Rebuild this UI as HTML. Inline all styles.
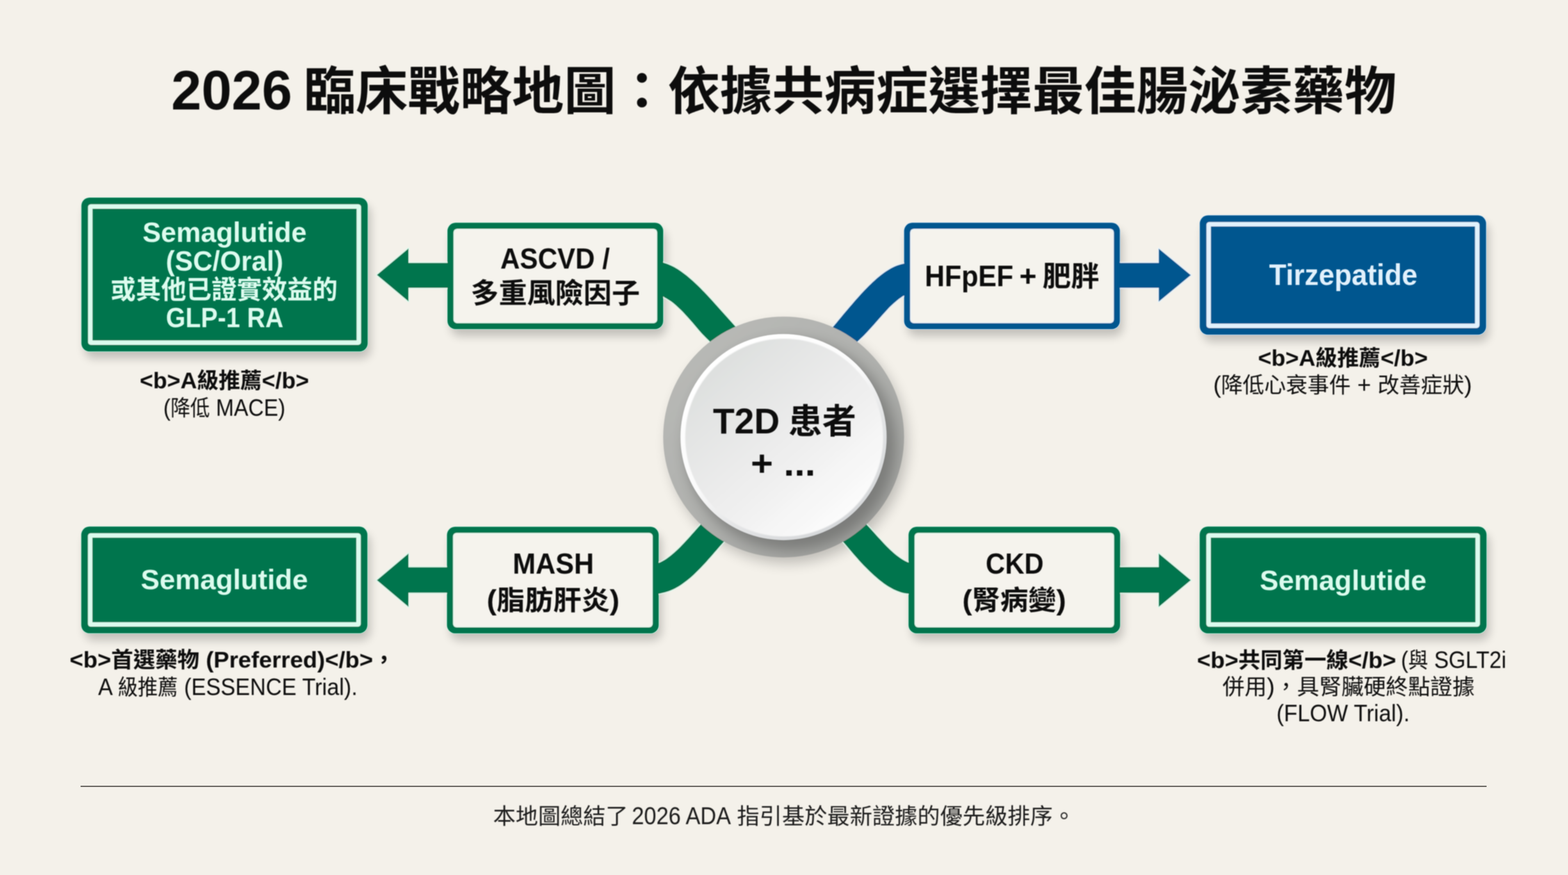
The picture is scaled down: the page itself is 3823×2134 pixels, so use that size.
<!DOCTYPE html>
<html lang="zh-Hant">
<head>
<meta charset="utf-8">
<title>2026 臨床戰略地圖：依據共病症選擇最佳腸泌素藥物</title>
<style>
html,body{margin:0;padding:0;background:#f4f1ea;}
body{width:3823px;height:2134px;overflow:hidden;position:relative;}
svg{position:absolute;left:0;top:0;display:block;}
text{font-family:"Liberation Sans", "Noto Sans CJK TC", sans-serif;}
.b{font-weight:700;}
.m{font-weight:500;}
.r{font-weight:400;}
</style>
</head>
<body>
<svg width="3823" height="2134" viewBox="0 0 3823 2134">
<defs>
<filter id="blur9" x="-20%" y="-30%" width="140%" height="160%"><feGaussianBlur stdDeviation="11"/></filter>
<filter id="blur16" x="-30%" y="-30%" width="160%" height="160%"><feGaussianBlur stdDeviation="16"/></filter>
<filter id="blur10" x="-30%" y="-30%" width="160%" height="160%"><feGaussianBlur stdDeviation="10"/></filter>
<filter id="soft" x="-5%" y="-5%" width="110%" height="110%"><feGaussianBlur stdDeviation="0.9"/></filter>
<filter id="softt" x="-2%" y="-5%" width="104%" height="110%"><feGaussianBlur stdDeviation="0.8"/></filter>
<linearGradient id="ring" x1="0.15" y1="0.1" x2="0.85" y2="0.9">
  <stop offset="0" stop-color="#b8b9b6"/>
  <stop offset="0.5" stop-color="#b0b1ae"/>
  <stop offset="1" stop-color="#a2a3a0"/>
</linearGradient>
<linearGradient id="disc" x1="0.15" y1="0.1" x2="0.85" y2="0.9">
  <stop offset="0" stop-color="#dddfde"/>
  <stop offset="0.5" stop-color="#ececec"/>
  <stop offset="1" stop-color="#fcfcfc"/>
</linearGradient>
<linearGradient id="rim" x1="0.2" y1="0.1" x2="0.8" y2="0.9">
  <stop offset="0" stop-color="#ffffff"/>
  <stop offset="0.45" stop-color="#fbfbfb"/>
  <stop offset="0.7" stop-color="#e4e5e6"/>
  <stop offset="1" stop-color="#d6d8da"/>
</linearGradient>
<clipPath id="ringclip"><circle cx="1910.7" cy="1065.8" r="293.6"/></clipPath>
</defs>
<rect x="0" y="0" width="3823" height="2134" fill="#f4f1ea"/>

<g filter="url(#blur9)" opacity="0.20">
<rect x="206.5" y="499" width="697.0" height="375.29999999999995" rx="22" fill="#000"/>
<rect x="2933.3" y="542.3" width="697.0" height="291.0" rx="22" fill="#000"/>
<rect x="206.2" y="1301.3" width="696.5999999999999" height="260.20000000000005" rx="22" fill="#000"/>
<rect x="2933" y="1301.2" width="698.4000000000001" height="260.5999999999999" rx="22" fill="#000"/>
<rect x="1099" y="560.3" width="525" height="259.5" rx="22" fill="#000"/>
<rect x="2212.4" y="560.3" width="525.0" height="259.5" rx="22" fill="#000"/>
<rect x="1097.8" y="1301.8" width="515.2" height="259.9000000000001" rx="22" fill="#000"/>
<rect x="2223.2" y="1301.8" width="514.8000000000002" height="259.9000000000001" rx="22" fill="#000"/>
</g>
<circle cx="1920.6" cy="1081.8" r="291.6" fill="#000" opacity="0.22" filter="url(#blur16)"/>
<rect x="197.0" y="480.5" width="701.0" height="378.29999999999995" rx="21.5" fill="#dcfbee" opacity="0.8"/>
<rect x="2923.8" y="523.8" width="701.0" height="294.0" rx="21.5" fill="#e2f1fc" opacity="0.8"/>
<rect x="196.7" y="1282.8" width="700.5999999999999" height="263.20000000000005" rx="21.5" fill="#dcfbee" opacity="0.8"/>
<rect x="2923.5" y="1282.7" width="702.4000000000001" height="263.5999999999999" rx="21.5" fill="#dcfbee" opacity="0.8"/>
<rect x="1089.5" y="541.8" width="529" height="262.5" rx="21.5" fill="#dcfbee" opacity="0.8"/>
<rect x="2202.9" y="541.8" width="529.0" height="262.5" rx="21.5" fill="#e2f1fc" opacity="0.8"/>
<rect x="1088.3" y="1283.3" width="519.2" height="262.9000000000001" rx="21.5" fill="#dcfbee" opacity="0.8"/>
<rect x="2213.7" y="1283.3" width="518.8000000000002" height="262.9000000000001" rx="21.5" fill="#dcfbee" opacity="0.8"/>
<g filter="url(#soft)">
<path d="M1604.2 640.3 L1616.2 640.3 L1620.2 641.4 L1624.2 642.7 L1628.3 644.2 L1632.3 645.9 L1636.3 647.7 L1640.4 649.7 L1644.4 651.8 L1648.5 654.2 L1652.5 656.6 L1656.5 659.2 L1660.6 662.0 L1664.6 664.9 L1668.6 667.9 L1672.7 671.0 L1676.7 674.3 L1680.7 677.7 L1684.8 681.2 L1688.8 684.8 L1692.9 688.4 L1696.9 692.2 L1700.9 696.1 L1705.0 700.0 L1709.0 704.1 L1713.0 708.2 L1717.1 712.3 L1721.1 716.5 L1725.1 720.8 L1729.2 725.2 L1733.2 729.5 L1737.3 733.9 L1741.3 738.4 L1745.3 742.9 L1749.4 747.4 L1753.4 751.9 L1757.4 756.4 L1761.5 761.0 L1765.5 765.5 L1769.6 770.0 L1773.6 774.6 L1777.6 779.1 L1781.7 783.6 L1785.7 788.1 L1789.7 792.5 L1836.6 844.5 L1777.8 880.1 L1728.3 830.6 L1724.3 826.7 L1720.3 822.7 L1716.2 818.6 L1712.2 814.4 L1708.2 810.1 L1704.2 805.5 L1700.2 800.8 L1696.2 796.0 L1692.2 791.3 L1688.2 786.5 L1684.2 781.9 L1680.2 777.4 L1676.2 773.0 L1672.2 768.7 L1668.2 764.3 L1664.2 760.1 L1660.2 756.1 L1656.2 752.2 L1652.2 748.4 L1648.2 744.7 L1644.2 741.2 L1640.2 737.9 L1636.2 735.1 L1632.2 732.4 L1628.2 729.9 L1624.2 727.5 L1620.2 725.4 L1616.2 722.3 L1604.2 722.3 Z" fill="#06744e" stroke="#dcfbee" stroke-width="4.6" stroke-linejoin="round" paint-order="stroke"/>
<path d="M2216.2 643.1 L2204.2 643.1 L2200.2 643.8 L2196.2 644.8 L2192.2 645.9 L2188.1 647.3 L2184.1 648.8 L2180.1 650.6 L2176.1 652.5 L2172.1 654.6 L2168.1 656.9 L2164.0 659.4 L2160.0 662.0 L2156.0 664.8 L2152.0 667.7 L2148.0 670.8 L2144.0 674.0 L2139.9 677.3 L2135.9 680.8 L2131.9 684.4 L2127.9 688.1 L2123.9 691.9 L2119.9 695.8 L2115.9 699.8 L2111.8 703.9 L2107.8 708.0 L2103.8 712.3 L2099.8 716.6 L2095.8 721.0 L2091.8 725.5 L2087.7 730.0 L2083.7 734.6 L2079.7 739.2 L2075.7 743.9 L2071.7 748.6 L2067.7 753.3 L2063.7 758.1 L2059.6 762.8 L2055.6 767.6 L2051.6 772.4 L2047.6 777.3 L2043.6 782.1 L2039.6 786.9 L2035.5 791.7 L2031.5 796.4 L1986.6 850.1 L2043.3 878.2 L2093.9 829.9 L2098.0 826.1 L2102.1 822.2 L2106.2 818.2 L2110.2 814.0 L2114.3 809.7 L2118.4 805.3 L2122.5 800.8 L2126.6 796.3 L2130.7 791.7 L2134.8 787.1 L2138.8 782.4 L2142.9 777.8 L2147.0 773.2 L2151.1 768.5 L2155.2 764.0 L2159.3 759.4 L2163.4 755.0 L2167.4 750.6 L2171.5 746.6 L2175.6 742.8 L2179.7 739.1 L2183.8 735.5 L2187.9 732.0 L2191.9 728.8 L2196.0 725.9 L2200.1 723.1 L2204.2 720.6 L2216.2 720.6 Z" fill="#03568f" stroke="#e2f1fc" stroke-width="4.6" stroke-linejoin="round" paint-order="stroke"/>
<path d="M1593.3 1373.2 L1605.3 1373.2 L1609.4 1371.5 L1613.4 1369.6 L1617.5 1367.3 L1621.5 1364.9 L1625.6 1362.2 L1629.6 1359.3 L1633.7 1356.3 L1637.7 1353.0 L1641.8 1349.6 L1645.8 1346.0 L1649.9 1342.2 L1653.9 1338.4 L1658.0 1334.4 L1662.0 1330.2 L1666.1 1326.0 L1670.1 1321.7 L1674.2 1317.3 L1678.2 1312.9 L1682.3 1308.4 L1686.3 1303.8 L1690.4 1299.2 L1694.4 1294.7 L1698.5 1290.1 L1702.5 1285.5 L1706.6 1280.9 L1752.9 1228.4 L1809.9 1270.6 L1763.5 1323.0 L1759.5 1327.5 L1755.4 1332.1 L1751.3 1336.8 L1747.3 1341.4 L1743.2 1346.1 L1739.2 1350.7 L1735.1 1355.4 L1731.1 1360.0 L1727.0 1364.6 L1723.0 1369.3 L1718.9 1373.7 L1714.8 1378.0 L1710.8 1382.2 L1706.7 1386.4 L1702.7 1390.5 L1698.6 1394.6 L1694.6 1398.5 L1690.5 1402.4 L1686.4 1406.2 L1682.4 1409.7 L1678.3 1413.0 L1674.3 1416.2 L1670.2 1419.3 L1666.2 1422.3 L1662.1 1425.2 L1658.0 1427.9 L1654.0 1430.5 L1649.9 1432.8 L1645.9 1435.0 L1641.8 1437.0 L1637.8 1438.8 L1633.7 1440.5 L1629.7 1441.9 L1625.6 1443.3 L1621.5 1444.4 L1617.5 1445.5 L1613.4 1446.6 L1609.4 1447.4 L1605.3 1448.0 L1593.3 1448.0 Z" fill="#06744e" stroke="#dcfbee" stroke-width="4.6" stroke-linejoin="round" paint-order="stroke"/>
<path d="M2227.0 1372.1 L2215.0 1372.1 L2211.0 1370.3 L2206.9 1368.3 L2202.8 1365.9 L2198.7 1363.4 L2194.6 1360.7 L2190.5 1357.8 L2186.4 1354.7 L2182.4 1351.4 L2178.3 1347.9 L2174.2 1344.2 L2170.1 1340.4 L2166.0 1336.5 L2161.9 1332.4 L2157.8 1328.2 L2153.8 1323.9 L2149.7 1319.6 L2145.6 1315.1 L2141.5 1310.7 L2137.4 1306.2 L2133.3 1301.6 L2129.2 1297.1 L2125.2 1292.6 L2121.1 1288.1 L2117.0 1283.6 L2112.9 1279.2 L2065.5 1227.7 L2012.7 1270.3 L2057.7 1323.9 L2061.8 1328.7 L2065.8 1333.5 L2069.8 1338.2 L2073.9 1343.0 L2077.9 1347.7 L2081.9 1352.4 L2086.0 1357.0 L2090.0 1361.6 L2094.0 1366.2 L2098.1 1370.7 L2102.1 1375.0 L2106.1 1379.2 L2110.2 1383.3 L2114.2 1387.3 L2118.2 1391.3 L2122.3 1395.2 L2126.3 1399.0 L2130.3 1402.7 L2134.4 1406.3 L2138.4 1409.8 L2142.4 1413.2 L2146.5 1416.5 L2150.5 1419.6 L2154.5 1422.7 L2158.6 1425.6 L2162.6 1428.3 L2166.6 1430.8 L2170.7 1433.1 L2174.7 1435.3 L2178.7 1437.4 L2182.8 1439.3 L2186.8 1441.0 L2190.8 1442.6 L2194.9 1444.0 L2198.9 1445.3 L2202.9 1446.2 L2207.0 1446.9 L2211.0 1447.4 L2215.0 1447.7 L2227.0 1447.7 Z" fill="#06744e" stroke="#dcfbee" stroke-width="4.6" stroke-linejoin="round" paint-order="stroke"/>
<path d="M919 670.5 L996 606.0 L996 641.3 L1100 641.3 L1100 702 L996 702 L996 735.0 Z" fill="#06744e" stroke="#dcfbee" stroke-width="4.6" stroke-linejoin="round" paint-order="stroke"/>
<path d="M2903.3 671 L2825.3 606.5 L2825.3 641.3 L2722 641.3 L2722 702 L2825.3 702 L2825.3 735.5 Z" fill="#03568f" stroke="#e2f1fc" stroke-width="4.6" stroke-linejoin="round" paint-order="stroke"/>
<path d="M919 1415 L996 1350 L996 1383.5 L1100 1383.5 L1100 1445.5 L996 1445.5 L996 1480 Z" fill="#06744e" stroke="#dcfbee" stroke-width="4.6" stroke-linejoin="round" paint-order="stroke"/>
<path d="M2903.3 1415 L2825.3 1350 L2825.3 1383 L2722 1383 L2722 1445.7 L2825.3 1445.7 L2825.3 1480 Z" fill="#06744e" stroke="#dcfbee" stroke-width="4.6" stroke-linejoin="round" paint-order="stroke"/>
<rect x="198.5" y="482" width="698.0" height="375.29999999999995" rx="20" fill="#06744e"/>
<rect x="214.7" y="498.2" width="665.6" height="342.9" rx="7" fill="#dcfbee"/>
<rect x="225.5" y="509.0" width="644.0" height="321.29999999999995" rx="1" fill="#06744e"/>
<rect x="2925.3" y="525.3" width="698.0" height="291.0" rx="20" fill="#03568f"/>
<rect x="2941.5" y="541.5" width="665.6" height="258.6" rx="7" fill="#e2f1fc"/>
<rect x="2952.3" y="552.3" width="644.0" height="237.0" rx="1" fill="#03568f"/>
<rect x="198.2" y="1284.3" width="697.5999999999999" height="260.20000000000005" rx="20" fill="#06744e"/>
<rect x="214.39999999999998" y="1300.5" width="665.1999999999999" height="227.80000000000004" rx="7" fill="#dcfbee"/>
<rect x="225.2" y="1311.3" width="643.5999999999999" height="206.20000000000005" rx="1" fill="#06744e"/>
<rect x="2925" y="1284.2" width="699.4000000000001" height="260.5999999999999" rx="20" fill="#06744e"/>
<rect x="2941.2" y="1300.4" width="667.0000000000001" height="228.1999999999999" rx="7" fill="#dcfbee"/>
<rect x="2952.0" y="1311.2" width="645.4000000000001" height="206.5999999999999" rx="1" fill="#06744e"/>
<rect x="1091" y="543.3" width="526" height="259.5" rx="20" fill="#06744e"/>
<rect x="1105.6" y="557.9" width="496.8" height="230.3" rx="9" fill="#dcfbee"/>
<rect x="1107.6" y="559.9" width="492.8" height="226.3" rx="7.5" fill="#f5f3ed"/>
<rect x="2204.4" y="543.3" width="526.0" height="259.5" rx="20" fill="#03568f"/>
<rect x="2219.0" y="557.9" width="496.8" height="230.3" rx="9" fill="#e2f1fc"/>
<rect x="2221.0" y="559.9" width="492.8" height="226.3" rx="7.5" fill="#f5f3ed"/>
<rect x="1089.8" y="1284.8" width="516.2" height="259.9000000000001" rx="20" fill="#06744e"/>
<rect x="1104.3999999999999" y="1299.3999999999999" width="487.00000000000006" height="230.7000000000001" rx="9" fill="#dcfbee"/>
<rect x="1106.3999999999999" y="1301.3999999999999" width="483.00000000000006" height="226.7000000000001" rx="7.5" fill="#f5f3ed"/>
<rect x="2215.2" y="1284.8" width="515.8000000000002" height="259.9000000000001" rx="20" fill="#06744e"/>
<rect x="2229.7999999999997" y="1299.3999999999999" width="486.6000000000002" height="230.7000000000001" rx="9" fill="#dcfbee"/>
<rect x="2231.7999999999997" y="1301.3999999999999" width="482.6000000000002" height="226.7000000000001" rx="7.5" fill="#f5f3ed"/>
<circle cx="1910.6" cy="1065.8" r="293.6" fill="url(#ring)"/>
<g clip-path="url(#ringclip)"><circle cx="1927.6" cy="1084.8" r="257.2" fill="#000" opacity="0.25" filter="url(#blur16)"/></g>
<circle cx="1910.3999999999999" cy="1066.0" r="251.2" fill="url(#rim)"/>
<circle cx="1911.8999999999999" cy="1067.1" r="241.2" fill="url(#disc)" filter="url(#soft)"/>
</g>
<rect x="196.5" y="1916.4" width="3428" height="2.8" fill="#55534e"/>
<g filter="url(#softt)">
<text id="title1" x="564.8" y="267" font-size="127" class="b" fill="#0a0a0a" text-anchor="middle" xml:space="preserve" textLength="294.5" lengthAdjust="spacingAndGlyphs"><tspan font-size="136">2026</tspan></text>
<text id="title2" x="2072.7" y="267" font-size="126.7" class="b" fill="#0a0a0a" text-anchor="middle" xml:space="preserve" textLength="2664.3" lengthAdjust="spacingAndGlyphs"><tspan font-size="126.7">臨床戰略地圖：依據共病症選擇最佳腸泌素藥物</tspan></text>
<text id="b1l1" x="547.5" y="590" font-size="63" class="b" fill="#dcfbee" text-anchor="middle" xml:space="preserve" textLength="400.2" lengthAdjust="spacingAndGlyphs"><tspan font-size="69">Semaglutide</tspan></text>
<text id="b1l2" x="547.5" y="660" font-size="63" class="b" fill="#dcfbee" text-anchor="middle" xml:space="preserve" textLength="286.3" lengthAdjust="spacingAndGlyphs"><tspan font-size="69">(SC/Oral)</tspan></text>
<text id="b1l3" x="546.5" y="728" font-size="63" class="b" fill="#dcfbee" text-anchor="middle" xml:space="preserve" textLength="553.8" lengthAdjust="spacingAndGlyphs"><tspan font-size="63">或其他已證實效益的</tspan></text>
<text id="b1l4" x="547.8" y="798" font-size="63" class="b" fill="#dcfbee" text-anchor="middle" xml:space="preserve" textLength="286.4" lengthAdjust="spacingAndGlyphs"><tspan font-size="69">GLP-1 RA</tspan></text>
<text id="c1l1" x="547.0" y="947.4" font-size="53" class="b" fill="#0a0a0a" text-anchor="middle" xml:space="preserve" textLength="412.6" lengthAdjust="spacingAndGlyphs"><tspan font-size="56">&lt;b&gt;A</tspan><tspan font-size="53">級推薦</tspan><tspan font-size="56">&lt;/b&gt;</tspan></text>
<text id="c1l2" x="547.0" y="1014" font-size="53" class="r" fill="#0a0a0a" text-anchor="middle" xml:space="preserve" textLength="297.4" lengthAdjust="spacingAndGlyphs"><tspan font-size="58">(</tspan><tspan font-size="53">降低</tspan><tspan font-size="58"> MACE)</tspan></text>
<text id="ascvd1" x="1353.4" y="654.5" font-size="68.5" class="b" fill="#0a0a0a" text-anchor="middle" xml:space="preserve" textLength="266.7" lengthAdjust="spacingAndGlyphs"><tspan font-size="70">ASCVD /</tspan></text>
<text id="ascvd2" x="1353.8" y="739" font-size="68.5" class="b" fill="#0a0a0a" text-anchor="middle" xml:space="preserve" textLength="412.8" lengthAdjust="spacingAndGlyphs"><tspan font-size="68.5">多重風險因子</tspan></text>
<text id="hfpef1" x="2362.8" y="698" font-size="68" class="b" fill="#0a0a0a" text-anchor="middle" xml:space="preserve" textLength="216.0" lengthAdjust="spacingAndGlyphs"><tspan font-size="73">HFpEF</tspan></text>
<text id="hfpef2" x="2506.3" y="698" font-size="68" class="b" fill="#0a0a0a" text-anchor="middle" xml:space="preserve" textLength="42.2" lengthAdjust="spacingAndGlyphs"><tspan font-size="73">+</tspan></text>
<text id="hfpef3" x="2611.3" y="698" font-size="68" class="b" fill="#0a0a0a" text-anchor="middle" xml:space="preserve" textLength="139.1" lengthAdjust="spacingAndGlyphs"><tspan font-size="68">肥胖</tspan></text>
<text id="tirz" x="3275.1" y="695.2" font-size="70" class="b" fill="#e2f1fc" text-anchor="middle" xml:space="preserve" textLength="361.8" lengthAdjust="spacingAndGlyphs"><tspan font-size="73">Tirzepatide</tspan></text>
<text id="c2l1" x="3274.2" y="892" font-size="53" class="b" fill="#0a0a0a" text-anchor="middle" xml:space="preserve" textLength="414.0" lengthAdjust="spacingAndGlyphs"><tspan font-size="56">&lt;b&gt;A</tspan><tspan font-size="53">級推薦</tspan><tspan font-size="56">&lt;/b&gt;</tspan></text>
<text id="c2l2" x="3273.4" y="958.3" font-size="53" class="r" fill="#0a0a0a" text-anchor="middle" xml:space="preserve" textLength="631.0" lengthAdjust="spacingAndGlyphs"><tspan font-size="58">(</tspan><tspan font-size="53">降低心衰事件</tspan><tspan font-size="58"> + </tspan><tspan font-size="53">改善症狀</tspan><tspan font-size="58">)</tspan></text>
<text id="t2d1a" x="1819.6" y="1056.7" font-size="84" class="b" fill="#0a0a0a" text-anchor="middle" xml:space="preserve" textLength="162.7" lengthAdjust="spacingAndGlyphs"><tspan font-size="88">T2D</tspan></text>
<text id="t2d1b" x="2004.8" y="1056.7" font-size="84" class="b" fill="#0a0a0a" text-anchor="middle" xml:space="preserve" textLength="165.5" lengthAdjust="spacingAndGlyphs"><tspan font-size="84">患者</tspan></text>
<text id="t2d2" x="1909.5" y="1160" font-size="84" class="b" fill="#0a0a0a" text-anchor="middle" xml:space="preserve" textLength="157.8" lengthAdjust="spacingAndGlyphs"><tspan font-size="88">+ ...</tspan></text>
<text id="sema2" x="547.0" y="1437.1" font-size="66" class="b" fill="#dcfbee" text-anchor="middle" xml:space="preserve" textLength="407.5" lengthAdjust="spacingAndGlyphs"><tspan font-size="69">Semaglutide</tspan></text>
<text id="c3l1" x="566.5" y="1628" font-size="53" class="b" fill="#0a0a0a" text-anchor="middle" xml:space="preserve" textLength="793.3" lengthAdjust="spacingAndGlyphs"><tspan font-size="56">&lt;b&gt;</tspan><tspan font-size="53">首選藥物</tspan><tspan font-size="56"> (Preferred)&lt;/b&gt;</tspan><tspan font-size="53">，</tspan></text>
<text id="c3l2" x="555.4" y="1694.5" font-size="53" class="r" fill="#0a0a0a" text-anchor="middle" xml:space="preserve" textLength="632.4" lengthAdjust="spacingAndGlyphs"><tspan font-size="58">A </tspan><tspan font-size="53">級推薦</tspan><tspan font-size="58"> (ESSENCE Trial).</tspan></text>
<text id="mash1" x="1349.0" y="1399.2" font-size="68" class="b" fill="#0a0a0a" text-anchor="middle" xml:space="preserve" textLength="198.0" lengthAdjust="spacingAndGlyphs"><tspan font-size="70">MASH</tspan></text>
<text id="mash2" x="1348.7" y="1486.5" font-size="66" class="b" fill="#0a0a0a" text-anchor="middle" xml:space="preserve" textLength="323.9" lengthAdjust="spacingAndGlyphs"><tspan font-size="69">(</tspan><tspan font-size="66">脂肪肝炎</tspan><tspan font-size="69">)</tspan></text>
<text id="ckd1" x="2474.0" y="1399.2" font-size="68" class="b" fill="#0a0a0a" text-anchor="middle" xml:space="preserve" textLength="141.3" lengthAdjust="spacingAndGlyphs"><tspan font-size="70">CKD</tspan></text>
<text id="ckd2" x="2472.8" y="1486.5" font-size="66" class="b" fill="#0a0a0a" text-anchor="middle" xml:space="preserve" textLength="253.2" lengthAdjust="spacingAndGlyphs"><tspan font-size="69">(</tspan><tspan font-size="66">腎病變</tspan><tspan font-size="69">)</tspan></text>
<text id="sema3" x="3274.7" y="1438.6" font-size="66" class="b" fill="#dcfbee" text-anchor="middle" xml:space="preserve" textLength="406.5" lengthAdjust="spacingAndGlyphs"><tspan font-size="69">Semaglutide</tspan></text>
<text id="c4l1a" x="3161.2" y="1629.4" font-size="53" class="b" fill="#0a0a0a" text-anchor="middle" xml:space="preserve" textLength="485.4" lengthAdjust="spacingAndGlyphs"><tspan font-size="56">&lt;b&gt;</tspan><tspan font-size="53">共同第一線</tspan><tspan font-size="56">&lt;/b&gt;</tspan></text>
<text id="c4l1b" x="3544.2" y="1629.4" font-size="53" class="r" fill="#0a0a0a" text-anchor="middle" xml:space="preserve" textLength="256.9" lengthAdjust="spacingAndGlyphs"><tspan font-size="58">(</tspan><tspan font-size="53">與</tspan><tspan font-size="58"> SGLT2i</tspan></text>
<text id="c4l2" x="3287.8" y="1694" font-size="53" class="r" fill="#0a0a0a" text-anchor="middle" xml:space="preserve" textLength="615.0" lengthAdjust="spacingAndGlyphs"><tspan font-size="53">併用</tspan><tspan font-size="58">)</tspan><tspan font-size="53">，具腎臟硬終點證據</tspan></text>
<text id="c4l3" x="3274.7" y="1758.5" font-size="53" class="r" fill="#0a0a0a" text-anchor="middle" xml:space="preserve" textLength="324.8" lengthAdjust="spacingAndGlyphs"><tspan font-size="58">(FLOW Trial).</tspan></text>
<text id="foot1" x="1366.8" y="2010" font-size="54" class="r" fill="#1a1a1a" text-anchor="middle" xml:space="preserve" textLength="329.3" lengthAdjust="spacingAndGlyphs"><tspan font-size="54">本地圖總結了</tspan></text>
<text id="foot2" x="1661.3" y="2010" font-size="54" class="r" fill="#1a1a1a" text-anchor="middle" xml:space="preserve" textLength="241.5" lengthAdjust="spacingAndGlyphs"><tspan font-size="60">2026 ADA</tspan></text>
<text id="foot3" x="2209.2" y="2010" font-size="54" class="r" fill="#1a1a1a" text-anchor="middle" xml:space="preserve" textLength="825.0" lengthAdjust="spacingAndGlyphs"><tspan font-size="54">指引基於最新證據的優先級排序。</tspan></text>
</g>
</svg>
</body>
</html>
